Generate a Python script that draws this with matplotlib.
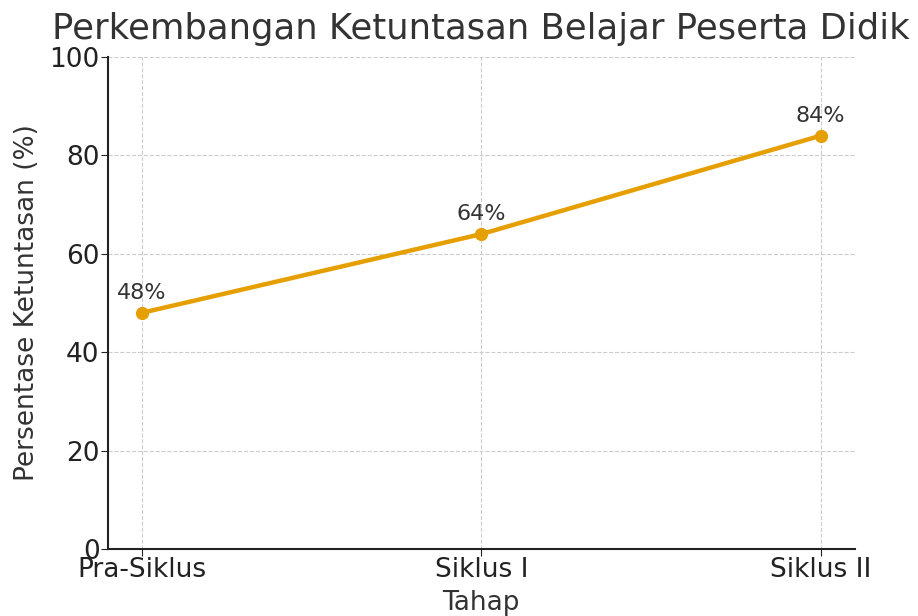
import matplotlib
matplotlib.use("Agg")
import matplotlib.pyplot as plt

stages = ["Pra-Siklus", "Siklus I", "Siklus II"]
percent = [48, 64, 84]
yticks = [0, 20, 40, 60, 80, 100]

plt.rcParams['font.family'] = ['DejaVu Sans']
fig = plt.figure(figsize=(9.18, 6.16), dpi=100)
ax = fig.add_axes([0.1176, 0.1088, 0.8134, 0.7987])

x = list(range(len(stages)))
ax.plot(x, percent, color="#E69F00", linewidth=3.2, marker="o", markersize=8.5)
for xi, v in zip(x, percent):
    ax.annotate(f"{v}%", (xi, v), xytext=(0, 7), textcoords="offset points",
                ha="center", va="bottom", fontsize=16, color="#333333")

ax.set_xticks(x)
ax.set_xticklabels(stages)
ax.set_xlim(-0.1, 2.1)
ax.set_ylim(0, 100)
ax.set_yticks(yticks)
ax.tick_params(labelsize=19, length=5, pad=1, colors="#222222")
ax.grid(True, linestyle="--", color="#cccccc", linewidth=0.8)
ax.spines["top"].set_visible(False)
ax.spines["right"].set_visible(False)
for s in ("left", "bottom"):
    ax.spines[s].set_linewidth(1.5)
    ax.spines[s].set_color("#222222")
ax.set_xlabel("Tahap", fontsize=19, color="#333333", labelpad=5)
ax.set_ylabel("Persentase Ketuntasan (%)", fontsize=19, color="#333333", labelpad=7)
ax.set_title("Perkembangan Ketuntasan Belajar Peserta Didik", fontsize=25.5, color="#333333", pad=13)

fig.savefig("out.png", dpi=100)
